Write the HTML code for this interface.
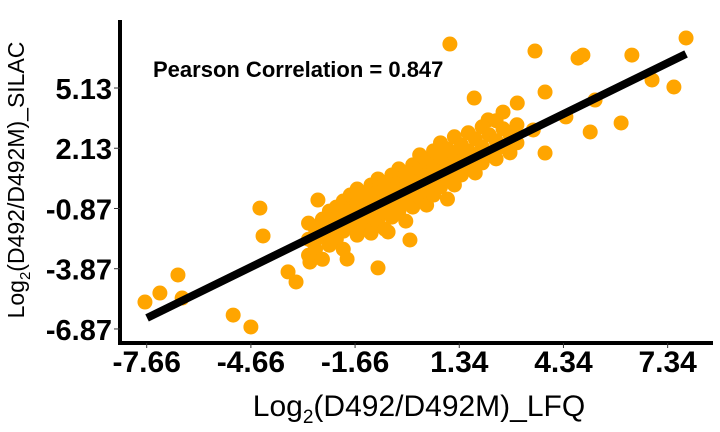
<!DOCTYPE html>
<html><head><meta charset="utf-8"><style>
body{margin:0;background:#fff;}
svg{display:block;font-family:"Liberation Sans",Arial,sans-serif;}
</style></head><body>
<svg id="chart" width="720" height="432">
<g id="points"></g>
<line id="fit" stroke="#000" stroke-width="8"/>
<line x1="120" y1="20" x2="120" y2="345" stroke="#000" stroke-width="4"/>
<line x1="118" y1="343" x2="713" y2="343" stroke="#000" stroke-width="4"/>
<g id="xt"></g>
<g id="yt"></g>
<text x="153" y="77" font-size="22" font-weight="bold">Pearson Correlation = 0.847</text>
<text x="419" y="416" font-size="30" text-anchor="middle">Log<tspan font-size="19" dy="7">2</tspan><tspan dy="-7">(D492/D492M)_LFQ</tspan></text>
<text transform="translate(24,180) rotate(-90)" font-size="23" text-anchor="middle">Log<tspan font-size="15" dy="6">2</tspan><tspan dy="-6">(D492/D492M)_SILAC</tspan></text>
</svg>
<script>
const xTicks=[-7.66,-4.66,-1.66,1.34,4.34,7.34];
const yTicks=[5.13,2.13,-0.87,-3.87,-6.87];
const xs=[-7.71,-7.28,-6.76,-6.64,-5.17,-4.66,-4.40,-4.31,1.07,3.52,3.81,4.76,4.90,6.31,6.89,7.52,7.87,5.25,5.11,6.00,3.81,4.41,3.01,3.47,-1.00,-1.89,-2.87,-3.59,-3.36,-2.96,-0.08,-0.71,-2.73,2.34,2.17,1.77,2.60,
-3.0,-3.0,-3.0,-2.8,-2.8,-2.6,-2.6,-2.6,-2.4,-2.4,-2.4,-2.2,-2.2,-2.2,-2.0,-2.0,-2.0,-2.0,-1.8,-1.8,-1.8,-1.6,-1.6,-1.6,-1.6,-1.4,-1.4,-1.4,-1.2,-1.2,-1.2,-1.2,-1.0,-1.0,-1.0,-1.0,-0.8,-0.8,-0.8,-0.8,-0.6,-0.6,-0.6,-0.6,-0.4,-0.4,-0.4,-0.4,-0.2,-0.2,-0.2,-0.2,0.0,0.0,0.0,0.0,0.2,0.2,0.2,0.2,0.4,0.4,0.4,0.4,0.6,0.6,0.6,0.6,0.8,0.8,0.8,0.8,1.0,1.0,1.0,1.0,1.2,1.2,1.2,1.2,1.4,1.4,1.4,1.6,1.6,1.6,1.8,1.8,1.8,2.0,2.0,2.0,2.2,2.2,2.4,2.4,2.4,2.6,2.6,2.8,2.8,3.0,3.0];
const ys=[-5.53,-5.08,-4.18,-5.33,-6.18,-6.77,-0.85,-2.24,7.32,6.97,4.93,6.62,6.77,6.77,5.53,5.18,7.62,4.53,2.94,3.39,1.89,3.69,4.38,3.04,-3.83,-3.39,-2.54,-4.03,-4.53,-3.54,-2.44,-2.04,-0.45,1.89,3.54,4.63,3.93,
-2.4,-1.6,-3.2,-1.9,-2.9,-1.4,-2.3,-3.4,-1.0,-1.9,-2.7,-1.5,-0.8,-2.4,-1.2,-0.5,-2.0,-2.9,-0.9,-1.7,-0.2,-1.3,-0.6,-2.2,0.1,-0.9,-0.2,-1.7,-0.5,0.3,-1.3,-2.1,-0.8,0.0,0.6,-1.6,-0.3,0.4,-1.1,-1.9,0.1,0.8,-0.6,-1.3,-0.2,0.5,1.1,-1.0,0.2,0.9,-0.5,-1.5,0.0,0.7,1.3,-0.8,0.4,1.1,-0.3,1.8,0.1,0.8,1.5,-0.7,0.5,1.2,2.0,-0.2,0.9,1.7,0.2,2.4,1.3,0.6,2.1,-0.4,1.0,1.8,2.7,0.3,1.5,2.3,0.8,1.2,2.0,2.9,1.7,2.6,0.9,2.2,3.2,1.4,1.9,2.8,2.5,3.5,1.6,2.2,3.1,2.8,1.9,3.3,2.4];
const fitSlope=[0.847];
const fitIntercept=[0.16];
const fitRange=[-7.65,7.87];
const sx=v=>146.7+(v+7.66)*34.73;
const sy=v=>88-(v-5.13)*20.08;
const NS='http://www.w3.org/2000/svg';
const pg=document.getElementById('points');
for(let i=0;i<xs.length;i++){
 const c=document.createElementNS(NS,'circle');
 c.setAttribute('cx',sx(xs[i]));c.setAttribute('cy',sy(ys[i]));c.setAttribute('r',7.5);c.setAttribute('fill','#FFA500');
 
 
 pg.appendChild(c);
}
const f=document.getElementById('fit');
f.setAttribute('x1',sx(fitRange[0]));f.setAttribute('y1',sy(fitSlope[0]*fitRange[0]+fitIntercept[0]));
f.setAttribute('x2',sx(fitRange[1]));f.setAttribute('y2',sy(fitSlope[0]*fitRange[1]+fitIntercept[0]));
const xt=document.getElementById('xt');
xTicks.forEach(v=>{
 const l=document.createElementNS(NS,'line');
 l.setAttribute('x1',sx(v));l.setAttribute('x2',sx(v));l.setAttribute('y1',343);l.setAttribute('y2',348);l.setAttribute('stroke','#333');
 
 
 xt.appendChild(l);
 const t=document.createElementNS(NS,'text');
 t.setAttribute('x',sx(v));t.setAttribute('y',372);t.setAttribute('text-anchor','middle');t.setAttribute('font-size','30');t.setAttribute('font-weight','bold');
 t.textContent=v.toFixed(2);
 
 
 xt.appendChild(t);
});
const yt=document.getElementById('yt');
yTicks.forEach(v=>{
 const l=document.createElementNS(NS,'line');
 l.setAttribute('x1',114);l.setAttribute('x2',120);l.setAttribute('y1',sy(v));l.setAttribute('y2',sy(v));l.setAttribute('stroke','#333');
 
 
 yt.appendChild(l);
 const t=document.createElementNS(NS,'text');
 t.setAttribute('x',112);t.setAttribute('y',sy(v)+11);t.setAttribute('text-anchor','end');t.setAttribute('font-size','29');t.setAttribute('font-weight','bold');
 t.textContent=v.toFixed(2);
 
 
 yt.appendChild(t);
});
</script>
</body></html>
